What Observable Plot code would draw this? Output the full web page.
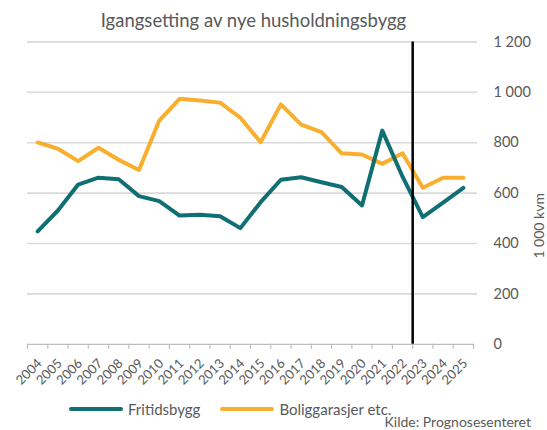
<!DOCTYPE html>
<html><head><meta charset="utf-8">
<script src="https://cdn.jsdelivr.net/npm/d3@7"></script>
<script src="https://cdn.jsdelivr.net/npm/@observablehq/plot@0.6"></script>
<style>
body{margin:0;background:#fff;font-family:Lato,sans-serif;color:#595959;}
#wrap{position:relative;width:547px;height:430px;overflow:hidden}
#title{position:absolute;left:0;width:507px;top:10px;text-align:center;font-size:18.5px;line-height:20px}
#chart{position:absolute;left:0;top:26px}
#legend{position:absolute;top:400px;left:69px;font-size:15px;line-height:18px;display:flex;align-items:center}
.sw{display:inline-block;width:54px;height:4px;border-radius:2px;margin-right:5px}
.item{display:flex;align-items:center;margin-right:20px}
#source{position:absolute;right:16px;top:414px;font-size:14px;line-height:16px}
</style></head>
<body><div id="wrap">
<div id="title"></div>
<div id="chart"></div>
<div id="legend"></div>
<div id="source"></div>
</div>
<script>
const titleText = "Igangsetting av nye husholdningsbygg";
const sourceText = "Kilde: Prognosesenteret";
const yLabel = "1 000 kvm";
const years = [2004,2005,2006,2007,2008,2009,2010,2011,2012,2013,2014,2015,2016,2017,2018,2019,2020,2021,2022,2023,2024,2025];
const fritidsbygg = [448,531,634,661,655,588,568,511,514,508,461,564,653,663,643,624,551,848,665,505,562,621];
const boliggarasjer = [801,776,727,780,732,692,888,974,967,959,899,802,952,872,842,758,753,716,758,621,661,661];
const seriesNames = ["Fritidsbygg","Boliggarasjer etc."];
const seriesColors = ["#0f6f72","#f9ae2d"];
const yTicks = [0,200,400,600,800,1000,1200];
const forecastBoundary = [2022.5];

const fmt = d3.formatLocale({decimal:",", thousands:"\u00a0", grouping:[3], currency:["",""]}).format(",");
const boundaries = years.map(y => y - 0.5).concat([years[years.length-1] + 0.5]);

const chart = Plot.plot({
  width: 547, height: 368,
  marginLeft: 27, marginRight: 74, marginTop: 15.4, marginBottom: 50.2,
  x: {domain: [years[0] - 0.5, years[years.length-1] + 0.5]},
  y: {domain: [0, 1200]},
  style: {fontFamily: "Lato, sans-serif", color: "#595959", background: "transparent"},
  marks: [
    Plot.gridY(yTicks.filter(d => d > 0), {stroke: "#d9d9d9", strokeOpacity: 1, strokeWidth: 1.6, insetRight: -4}),
    Plot.ruleY([0], {stroke: "#bfbfbf", strokeWidth: 1.3}),
    Plot.axisX(boundaries, {tickSize: 5, tickFormat: () => "", stroke: "#bfbfbf", strokeWidth: 1.2}),
    Plot.axisX(years, {tickSize: 0, tickRotate: -45, tickPadding: 17, dx: 2, tickFormat: d => String(d), fontSize: 13, fill: "#595959", label: null}),
    Plot.axisY(yTicks, {anchor: "right", tickSize: 0, tickPadding: 20, tickFormat: fmt, fontSize: 14.5, fill: "#595959", label: null}),
    Plot.line(years, {x: d => d, y: (d, i) => boliggarasjer[i], stroke: seriesColors[1], strokeWidth: 4}),
    Plot.line(years, {x: d => d, y: (d, i) => fritidsbygg[i], stroke: seriesColors[0], strokeWidth: 4}),
    Plot.ruleX(forecastBoundary, {stroke: "#000", strokeWidth: 2.5}),
    Plot.text([yLabel], {frameAnchor: "right", dx: 66, rotate: -90, text: d => d, fontSize: 14, fill: "#595959"})
  ]
});
document.getElementById("chart").appendChild(chart);
document.getElementById("title").textContent = titleText;
document.getElementById("source").textContent = sourceText;
const legend = document.getElementById("legend");
seriesNames.forEach((n, i) => {
  const it = document.createElement("div"); it.className = "item";
  const sw = document.createElement("span"); sw.className = "sw"; sw.style.background = seriesColors[i];
  const t = document.createElement("span"); t.textContent = n;
  it.appendChild(sw); it.appendChild(t); legend.appendChild(it);
});
</script>
</body></html>
